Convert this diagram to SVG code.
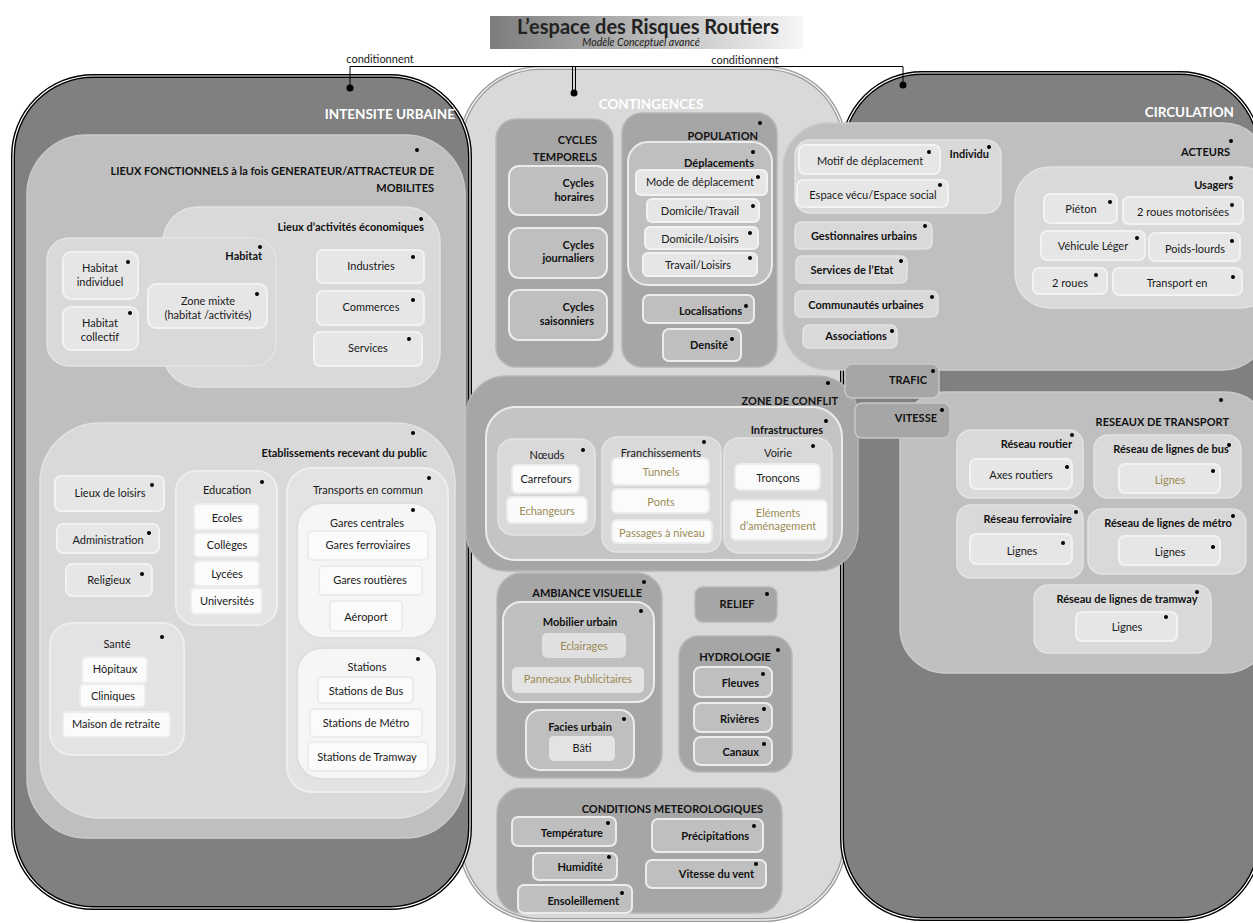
<svg xmlns="http://www.w3.org/2000/svg" width="1253" height="923" viewBox="0 0 1253 923">
<defs>
<linearGradient id="tg" x1="0" x2="1" y1="0" y2="0">
<stop offset="0" stop-color="#7c7c7c"/><stop offset="1" stop-color="#f6f6f6"/>
</linearGradient>
<style>
text{font-family:Lato,"Open Sans","Liberation Sans",sans-serif;font-size:11px;fill:#1a1a1a}
.b{font-weight:bold;fill:#111}
.e{text-anchor:end}
.m{text-anchor:middle}
.h{font-weight:bold;font-size:13.5px;fill:#fff}
.o{fill:#9a8b55}
.d{fill:#000}
.big{stroke:#000;stroke-width:4}
.bigi{fill:none;stroke:#fff;stroke-width:1.2}
.g1{fill:#808080}
.pA{fill:#a6a6a6;stroke:#b6b6b6;stroke-width:1.5}
.pB{fill:#bfbfbf;stroke:#ececec;stroke-width:2}
.pC{fill:#bfbfbf;stroke:#cacaca;stroke-width:1.5}
.pD{fill:#d9d9d9;stroke:#e3e3e3;stroke-width:1.5}
.pE{fill:#e6e6e6;stroke:#f2f2f2;stroke-width:2}
.pG{fill:#e3e3e3;stroke:#eeeeee;stroke-width:2}
.pF{fill:#f6f6f6;stroke:#dedede;stroke-width:2}
.pW{fill:#fbfbfb;stroke:#ececec;stroke-width:2}
.ln{fill:none;stroke:#000;stroke-width:1}
</style>
</defs>
<rect width="1253" height="923" fill="#fff"/>

<g id="title">
<rect x="490" y="16" width="313" height="33" fill="url(#tg)"/>
<text x="648" y="34" class="m b" style="font-size:20px;fill:#222">L’espace des Risques Routiers</text>
<text x="641" y="46" class="m" style="font-size:10.5px;font-style:italic">Modèle Conceptuel avancé</text>
</g>

<g id="contingences">
<rect x="460" y="68" width="385" height="852" rx="80" fill="#d9d9d9" stroke="#9c9c9c" stroke-width="4"/>
<rect x="460" y="68" width="385" height="852" rx="80" fill="none" stroke="#f4f4f4" stroke-width="1.3"/>
<text x="651" y="109" class="h m">CONTINGENCES</text>
</g>

<g id="intensite-urbaine">
<rect x="13" y="76" width="457" height="832" rx="80" class="g1 big"/>
<rect x="13" y="76" width="457" height="832" rx="80" class="bigi"/>
<text x="455" y="119" class="h e">INTENSITE URBAINE</text>
</g>

<g id="circulation">
<rect x="842" y="73" width="418" height="846" rx="80" class="g1 big"/>
<rect x="842" y="73" width="418" height="846" rx="80" class="bigi"/>
<text x="1234" y="117" class="h e">CIRCULATION</text>
</g>

<g id="connectors">
<polyline class="ln" points="350,88 350,66.5 903,66.5 903,85"/>
<line class="ln" x1="572.5" y1="66.5" x2="572.5" y2="93"/>
<line class="ln" x1="575.5" y1="66.5" x2="575.5" y2="93"/>
<circle class="d" cx="350" cy="88" r="3.5"/>
<circle class="d" cx="574" cy="93" r="3.5"/>
<circle class="d" cx="903" cy="85" r="3.5"/>
<text x="380" y="63" class="m">conditionnent</text>
<text x="745" y="64" class="m">conditionnent</text>
</g>

<!-- INTENSITE URBAINE content -->
<g id="lieux-fonctionnels">
<rect x="27" y="135" width="438" height="703" rx="60" class="pC"/>
<circle class="d" cx="417" cy="150" r="2"/>
<text x="434" y="175" class="b e">LIEUX FONCTIONNELS à la fois GENERATEUR/ATTRACTEUR DE</text>
<text x="434" y="192" class="b e">MOBILITES</text>
</g>
<g id="lieux-activites">
<rect x="163" y="207" width="277" height="180" rx="35" class="pD"/>
<circle class="d" cx="421" cy="219" r="2"/>
<text x="424" y="231" class="b e">Lieux d’activités économiques</text>
</g>
<g id="industries"><rect x="317" y="250" width="107" height="33" rx="6" class="pE"/><text x="371" y="270" class="m">Industries</text><circle class="d" cx="413" cy="257" r="2"/></g>
<g id="commerces"><rect x="317" y="291" width="107" height="34" rx="6" class="pE"/><text x="371" y="311" class="m">Commerces</text><circle class="d" cx="413" cy="300" r="2"/></g>
<g id="services"><rect x="314" y="332" width="108" height="34" rx="6" class="pE"/><text x="368" y="352" class="m">Services</text><circle class="d" cx="409" cy="339" r="2"/></g>
<g id="habitat">
<rect x="47" y="238" width="229" height="128" rx="22" class="pD"/>
<circle class="d" cx="260" cy="247" r="2"/>
<text x="262" y="260" class="b e">Habitat</text>
</g>
<g id="habitat-individuel"><rect x="63" y="252" width="75" height="47" rx="8" class="pE"/><text x="100" y="272" class="m">Habitat</text><text x="100" y="286" class="m">individuel</text><circle class="d" cx="128" cy="262" r="2"/></g>
<g id="habitat-collectif"><rect x="63" y="307" width="75" height="43" rx="8" class="pE"/><text x="100" y="327" class="m">Habitat</text><text x="100" y="341" class="m">collectif</text><circle class="d" cx="130" cy="313" r="2"/></g>
<g id="zone-mixte"><rect x="148" y="284" width="119" height="44" rx="8" class="pE"/><text x="208" y="305" class="m">Zone mixte</text><text x="208" y="319" class="m">(habitat /activités)</text><circle class="d" cx="257" cy="294" r="2"/></g>

<g id="erp">
<rect x="40" y="423" width="415" height="395" rx="60" class="pD"/>
<circle class="d" cx="413" cy="433" r="2"/>
<text x="427" y="457" class="b e">Etablissements recevant du public</text>
</g>
<g id="lieux-loisirs"><rect x="55" y="476" width="109" height="35" rx="6" class="pE"/><text x="110" y="497" class="m">Lieux de loisirs</text><circle class="d" cx="152" cy="485" r="2"/></g>
<g id="administration"><rect x="57" y="524" width="102" height="29" rx="6" class="pE"/><text x="108" y="544" class="m">Administration</text><circle class="d" cx="149" cy="533" r="2"/></g>
<g id="religieux"><rect x="66" y="564" width="86" height="32" rx="6" class="pE"/><text x="109" y="584" class="m">Religieux</text><circle class="d" cx="142" cy="574" r="2"/></g>
<g id="education">
<rect x="176" y="471" width="101" height="154" rx="20" class="pG"/>
<text x="227" y="494" class="m">Education</text><circle class="d" cx="262" cy="482" r="2"/>
<rect x="194" y="504" width="65" height="26" rx="4" class="pW"/><text x="227" y="522" class="m">Ecoles</text>
<rect x="194" y="533" width="65" height="24" rx="4" class="pW"/><text x="227" y="549" class="m">Collèges</text>
<rect x="194" y="561" width="65" height="25" rx="4" class="pW"/><text x="227" y="578" class="m">Lycées</text>
<rect x="191" y="588" width="71" height="26" rx="4" class="pW"/><text x="227" y="605" class="m">Universités</text>
</g>
<g id="sante">
<rect x="50" y="623" width="134" height="132" rx="22" class="pG"/>
<text x="117" y="648" class="m">Santé</text><circle class="d" cx="162" cy="637" r="2"/>
<rect x="82" y="657" width="65" height="26" rx="4" class="pW"/><text x="115" y="673" class="m">Hôpitaux</text>
<rect x="80" y="684" width="65" height="23" rx="4" class="pW"/><text x="113" y="700" class="m">Cliniques</text>
<rect x="63" y="712" width="107" height="25" rx="4" class="pW"/><text x="116" y="728" class="m">Maison de retraite</text>
</g>
<g id="transports-commun">
<rect x="287" y="468" width="161" height="324" rx="25" class="pG"/>
<text x="368" y="494" class="m">Transports en commun</text><circle class="d" cx="429" cy="478" r="2"/>
</g>
<g id="gares-centrales">
<rect x="297" y="503" width="140" height="135" rx="25" class="pF"/>
<text x="367" y="527" class="m">Gares centrales</text><circle class="d" cx="413" cy="510" r="2"/>
<rect x="308" y="531" width="120" height="29" rx="4" class="pW"/><text x="368" y="549" class="m">Gares ferroviaires</text>
<rect x="319" y="566" width="103" height="29" rx="4" class="pW"/><text x="370" y="584" class="m">Gares routières</text>
<rect x="330" y="601" width="72" height="30" rx="4" class="pW"/><text x="366" y="621" class="m">Aéroport</text>
</g>
<g id="stations">
<rect x="297" y="648" width="140" height="131" rx="25" class="pF"/>
<text x="367" y="671" class="m">Stations</text><circle class="d" cx="418" cy="659" r="2"/>
<rect x="318" y="677" width="95" height="26" rx="4" class="pW"/><text x="366" y="695" class="m">Stations de Bus</text>
<rect x="310" y="709" width="112" height="28" rx="4" class="pW"/><text x="366" y="727" class="m">Stations de Métro</text>
<rect x="308" y="742" width="120" height="29" rx="4" class="pW"/><text x="367" y="761" class="m">Stations de Tramway</text>
</g>

<!-- CONTINGENCES content -->
<g id="cycles-temporels">
<rect x="496" y="119" width="117" height="248" rx="20" class="pA"/>
<text x="597" y="144" class="b e">CYCLES</text><text x="597" y="161" class="b e">TEMPORELS</text>
</g>
<g id="cycles-horaires"><rect x="509" y="166" width="98" height="49" rx="10" class="pB"/><text x="594" y="187" class="b e">Cycles</text><text x="594" y="201" class="b e">horaires</text></g>
<g id="cycles-journaliers"><rect x="509" y="228" width="98" height="50" rx="10" class="pB"/><text x="594" y="249" class="b e">Cycles</text><text x="594" y="262" class="b e">journaliers</text></g>
<g id="cycles-saisonniers"><rect x="509" y="290" width="98" height="50" rx="10" class="pB"/><text x="594" y="311" class="b e">Cycles</text><text x="594" y="325" class="b e">saisonniers</text></g>

<g id="population">
<rect x="622" y="113" width="155" height="254" rx="20" class="pA"/>
<text x="758" y="140" class="b e">POPULATION</text><circle class="d" cx="760" cy="123" r="2"/>
</g>
<g id="deplacements">
<rect x="628" y="142" width="144" height="143" rx="20" class="pB"/>
<text x="754" y="167" class="b e">Déplacements</text><circle class="d" cx="753" cy="152" r="2"/>
<rect x="636" y="170" width="131" height="25" rx="5" class="pE"/><text x="700" y="186" class="m">Mode de déplacement</text><circle class="d" cx="758" cy="177" r="2"/>
<rect x="647" y="199" width="112" height="23" rx="5" class="pE"/><text x="700" y="215" class="m">Domicile/Travail</text><circle class="d" cx="753" cy="206" r="2"/>
<rect x="645" y="227" width="113" height="22" rx="5" class="pE"/><text x="700" y="243" class="m">Domicile/Loisirs</text><circle class="d" cx="750" cy="233" r="2"/>
<rect x="643" y="253" width="114" height="23" rx="5" class="pE"/><text x="698" y="269" class="m">Travail/Loisirs</text><circle class="d" cx="750" cy="258" r="2"/>
</g>
<g id="localisations"><rect x="643" y="295" width="111" height="28" rx="6" class="pB"/><text x="742" y="315" class="b e">Localisations</text><circle class="d" cx="746" cy="306" r="2"/></g>
<g id="densite"><rect x="663" y="329" width="78" height="32" rx="6" class="pB"/><text x="728" y="349" class="b e">Densité</text><circle class="d" cx="732" cy="339" r="2"/></g>

<g id="ambiance-visuelle">
<rect x="497" y="573" width="165" height="205" rx="25" class="pA"/>
<text x="642" y="597" class="b e">AMBIANCE VISUELLE</text><circle class="d" cx="644" cy="582" r="2"/>
</g>
<g id="mobilier-urbain">
<rect x="503" y="602" width="151" height="100" rx="18" class="pB"/>
<text x="580" y="626" class="b m">Mobilier urbain</text><circle class="d" cx="641" cy="611" r="2"/>
<rect x="542" y="633" width="84" height="25" rx="5" fill="#e0e0e0"/><text x="584" y="650" class="m o">Eclairages</text>
<rect x="512" y="667" width="132" height="26" rx="5" fill="#e3e3e3"/><text x="578" y="683" class="m o">Panneaux Publicitaires</text>
</g>
<g id="facies-urbain">
<rect x="526" y="710" width="108" height="60" rx="14" class="pB"/>
<text x="580" y="731" class="b m">Facies urbain</text><circle class="d" cx="624" cy="719" r="2"/>
<rect x="549" y="736" width="66" height="25" rx="5" fill="#e3e3e3"/><text x="582" y="752" class="m">Bâti</text>
</g>
<g id="relief"><rect x="695" y="587" width="82" height="35" rx="8" class="pA"/><text x="737" y="608" class="b m">RELIEF</text><circle class="d" cx="767" cy="594" r="2"/></g>
<g id="hydrologie">
<rect x="679" y="636" width="113" height="136" rx="20" class="pA"/>
<text x="735" y="661" class="b m">HYDROLOGIE</text><circle class="d" cx="778" cy="650" r="2"/>
</g>
<g id="fleuves"><rect x="694" y="667" width="78" height="30" rx="7" class="pB"/><text x="759" y="687" class="b e">Fleuves</text><circle class="d" cx="763" cy="674" r="2"/></g>
<g id="rivieres"><rect x="694" y="703" width="78" height="29" rx="7" class="pB"/><text x="759" y="723" class="b e">Rivières</text><circle class="d" cx="764" cy="709" r="2"/></g>
<g id="canaux"><rect x="694" y="737" width="78" height="28" rx="7" class="pB"/><text x="759" y="756" class="b e">Canaux</text><circle class="d" cx="764" cy="744" r="2"/></g>

<g id="conditions-meteo">
<rect x="497" y="788" width="285" height="125" rx="25" class="pA"/>
<text x="763" y="813" class="b e">CONDITIONS METEOROLOGIQUES</text>
</g>
<g id="temperature"><rect x="512" y="817" width="104" height="29" rx="6" class="pB"/><text x="603" y="837" class="b e">Température</text><circle class="d" cx="608" cy="823" r="2"/></g>
<g id="precipitations"><rect x="652" y="819" width="111" height="33" rx="6" class="pB"/><text x="749" y="840" class="b e">Précipitations</text><circle class="d" cx="754" cy="826" r="2"/></g>
<g id="humidite"><rect x="533" y="853" width="84" height="27" rx="6" class="pB"/><text x="603" y="871" class="b e">Humidité</text><circle class="d" cx="609" cy="857" r="2"/></g>
<g id="vitesse-vent"><rect x="646" y="860" width="120" height="28" rx="6" class="pB"/><text x="754" y="878" class="b e">Vitesse du vent</text><circle class="d" cx="756" cy="864" r="2"/></g>
<g id="ensoleillement"><rect x="518" y="885" width="114" height="28" rx="6" class="pB"/><text x="619" y="905" class="b e">Ensoleillement</text><circle class="d" cx="622" cy="893" r="2"/></g>

<!-- CIRCULATION content -->
<g id="acteurs">
<rect x="783" y="123" width="485" height="247" rx="45" class="pC"/>
<text x="1230" y="156" class="b e">ACTEURS</text><circle class="d" cx="1231" cy="141" r="2"/>
</g>
<g id="individu">
<rect x="795" y="140" width="206" height="73" rx="15" class="pD"/>
<text x="989" y="158" class="b e">Individu</text><circle class="d" cx="989" cy="147" r="2"/>
<rect x="799" y="145" width="141" height="29" rx="6" class="pE"/><text x="870" y="165" class="m">Motif de déplacement</text><circle class="d" cx="929" cy="152" r="2"/>
<rect x="797" y="180" width="151" height="27" rx="6" class="pE"/><text x="873" y="199" class="m">Espace vécu/Espace social</text><circle class="d" cx="940" cy="185" r="2"/>
</g>
<g id="gestionnaires"><rect x="795" y="222" width="137" height="27" rx="6" class="pD"/><text x="864" y="240" class="b m">Gestionnaires urbains</text><circle class="d" cx="925" cy="226" r="2"/></g>
<g id="services-etat"><rect x="796" y="256" width="111" height="27" rx="6" class="pD"/><text x="852" y="274" class="b m">Services de l’Etat</text><circle class="d" cx="901" cy="261" r="2"/></g>
<g id="communautes"><rect x="795" y="291" width="143" height="26" rx="6" class="pD"/><text x="866" y="309" class="b m">Communautés urbaines</text><circle class="d" cx="932" cy="297" r="2"/></g>
<g id="associations"><rect x="803" y="325" width="94" height="23" rx="6" class="pD"/><text x="856" y="340" class="b m">Associations</text><circle class="d" cx="892" cy="331" r="2"/></g>
<g id="usagers">
<rect x="1015" y="167" width="260" height="141" rx="35" class="pD"/>
<text x="1233" y="189" class="b e">Usagers</text><circle class="d" cx="1231" cy="178" r="2"/>
<rect x="1044" y="194" width="73" height="29" rx="6" class="pE"/><text x="1081" y="213" class="m">Piéton</text><circle class="d" cx="1110" cy="202" r="2"/>
<rect x="1123" y="197" width="120" height="27" rx="6" class="pE"/><text x="1183" y="216" class="m">2 roues motorisées</text><circle class="d" cx="1232" cy="205" r="2"/>
<rect x="1041" y="231" width="104" height="29" rx="6" class="pE"/><text x="1093" y="250" class="m">Véhicule Léger</text><circle class="d" cx="1137" cy="238" r="2"/>
<rect x="1149" y="233" width="91" height="28" rx="6" class="pE"/><text x="1195" y="253" class="m">Poids-lourds</text><circle class="d" cx="1232" cy="241" r="2"/>
<rect x="1033" y="268" width="74" height="26" rx="6" class="pE"/><text x="1070" y="287" class="m">2 roues</text><circle class="d" cx="1096" cy="275" r="2"/>
<rect x="1113" y="268" width="129" height="27" rx="6" class="pE"/><text x="1177" y="287" class="m">Transport en</text><circle class="d" cx="1233" cy="277" r="2"/>
</g>

<g id="reseaux-transport">
<rect x="900" y="392" width="370" height="281" rx="45" class="pC"/>
<text x="1229" y="426" class="b e">RESEAUX DE TRANSPORT</text><circle class="d" cx="1221" cy="400" r="2"/>
</g>
<g id="reseau-routier">
<rect x="957" y="430" width="126" height="68" rx="14" class="pD"/>
<text x="1072" y="448" class="b e">Réseau routier</text><circle class="d" cx="1072" cy="435" r="2"/>
<rect x="970" y="459" width="102" height="30" rx="6" class="pE"/><text x="1021" y="479" class="m">Axes routiers</text><circle class="d" cx="1067" cy="467" r="2"/>
</g>
<g id="reseau-bus">
<rect x="1094" y="435" width="147" height="63" rx="14" class="pD"/>
<text x="1171" y="453" class="b m">Réseau de lignes de bus</text><circle class="d" cx="1229" cy="445" r="2"/>
<rect x="1119" y="464" width="101" height="29" rx="6" class="pE"/><text x="1170" y="484" class="m o">Lignes</text><circle class="d" cx="1213" cy="471" r="2"/>
</g>
<g id="reseau-ferroviaire">
<rect x="957" y="505" width="126" height="73" rx="14" class="pD"/>
<text x="1072" y="523" class="b e">Réseau ferroviaire</text><circle class="d" cx="1076" cy="512" r="2"/>
<rect x="970" y="534" width="102" height="30" rx="6" class="pE"/><text x="1022" y="555" class="m">Lignes</text><circle class="d" cx="1063" cy="543" r="2"/>
</g>
<g id="reseau-metro">
<rect x="1088" y="509" width="158" height="65" rx="14" class="pD"/>
<text x="1168" y="527" class="b m">Réseau de lignes de métro</text><circle class="d" cx="1233" cy="516" r="2"/>
<rect x="1119" y="536" width="101" height="29" rx="6" class="pE"/><text x="1170" y="556" class="m">Lignes</text><circle class="d" cx="1213" cy="547" r="2"/>
</g>
<g id="reseau-tramway">
<rect x="1034" y="585" width="177" height="68" rx="14" class="pD"/>
<text x="1127" y="603" class="b m">Réseau de lignes de tramway</text><circle class="d" cx="1197" cy="592" r="2"/>
<rect x="1076" y="612" width="101" height="29" rx="6" class="pE"/><text x="1127" y="631" class="m">Lignes</text><circle class="d" cx="1166" cy="617" r="2"/>
</g>

<!-- ZONE DE CONFLIT -->
<g id="zone-de-conflit">
<rect x="466" y="376" width="392" height="195" rx="40" class="pA"/>
<text x="838" y="405" class="b e">ZONE DE CONFLIT</text><circle class="d" cx="828" cy="383" r="2"/>
</g>
<g id="infrastructures">
<rect x="486" y="407" width="356" height="153" rx="30" class="pB" style="fill:#c4c4c4"/>
<text x="823" y="434" class="b e">Infrastructures</text><circle class="d" cx="826" cy="421" r="2"/>
</g>
<g id="noeuds">
<rect x="498" y="439" width="97" height="96" rx="15" class="pD"/>
<text x="547" y="459" class="m">Nœuds</text><circle class="d" cx="583" cy="450" r="2"/>
<rect x="512" y="465" width="67" height="28" rx="5" class="pW"/><text x="546" y="483" class="m">Carrefours</text>
<rect x="507" y="497" width="80" height="26" rx="5" class="pW"/><text x="547" y="515" class="m o">Echangeurs</text>
</g>
<g id="franchissements">
<rect x="602" y="437" width="119" height="115" rx="15" class="pD"/>
<text x="661" y="457" class="m">Franchissements</text><circle class="d" cx="704" cy="442" r="2"/>
<rect x="612" y="458" width="97" height="27" rx="5" class="pW"/><text x="661" y="476" class="m o">Tunnels</text>
<rect x="612" y="489" width="97" height="24" rx="5" class="pW"/><text x="661" y="506" class="m o">Ponts</text>
<rect x="612" y="520" width="100" height="23" rx="5" class="pW"/><text x="662" y="537" class="m o">Passages à niveau</text>
</g>
<g id="voirie">
<rect x="724" y="438" width="108" height="115" rx="15" class="pD"/>
<text x="778" y="457" class="m">Voirie</text><circle class="d" cx="813" cy="446" r="2"/>
<rect x="735" y="464" width="85" height="26" rx="5" class="pW"/><text x="778" y="482" class="m">Tronçons</text>
<rect x="731" y="500" width="96" height="40" rx="5" class="pW"/><text x="778" y="517" class="m o">Eléments</text><text x="778" y="530" class="m o">d’aménagement</text>
</g>

<g id="trafic"><rect x="845" y="364" width="94" height="34" rx="7" class="pA" style="stroke:#c8c8c8"/><text x="927" y="384" class="b e">TRAFIC</text><circle class="d" cx="933" cy="371" r="2"/></g>
<g id="vitesse"><rect x="855" y="403" width="95" height="35" rx="7" class="pA" style="stroke:#c8c8c8"/><text x="937" y="422" class="b e">VITESSE</text><circle class="d" cx="942" cy="410" r="2"/></g>
</svg>
